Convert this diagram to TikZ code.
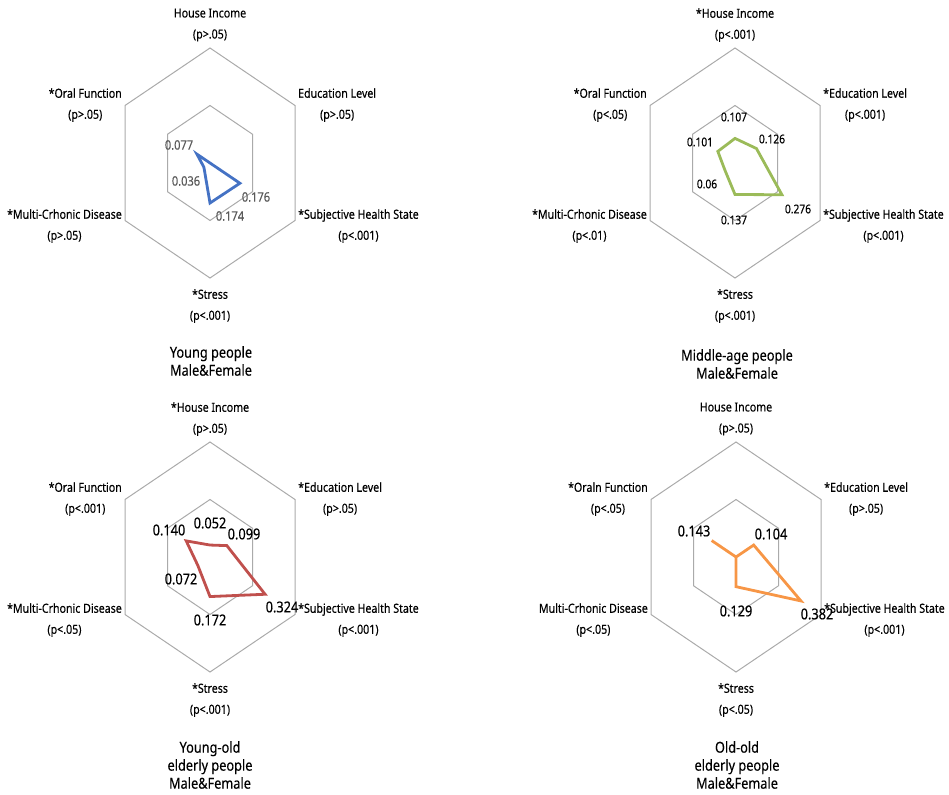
\documentclass[tikz,border=0pt]{standalone}
\usepackage{fontspec}
\setmainfont{Noto Sans}[FakeStretch=0.85, FakeBold=0.25]
\definecolor{hexgray}{RGB}{170,170,170}
\definecolor{youngblue}{RGB}{68,114,196}
\definecolor{middlegreen}{RGB}{155,187,89}
\definecolor{yoldred}{RGB}{192,80,77}
\definecolor{ooldorange}{RGB}{247,150,70}
\usetikzlibrary{calc}

\begin{document}
\begin{tikzpicture}[x=1pt,y=-1pt,
  hexline/.style={draw=hexgray, line width=1pt},
  dataline/.style={line width=2.8pt, line join=miter},
  axislabel/.style={align=center, inner sep=0pt, yshift=-2pt, font=\fontsize{12.5}{21}\selectfont},
  charttitle/.style={align=center, inner sep=0pt, font=\fontsize{15}{18}\selectfont},
  valuelabel/.style={inner sep=0pt}]
  \useasboundingbox (0,0) rectangle (949,794);

  % young people
  \begin{scope}[shift={(210,163)}, name prefix=yp-]
    \foreach \s in {1,0.5}
      \draw[hexline, scale=\s] (0,-115) -- (85,-57.5) -- (85,57.5) -- (0,115) -- (-85,57.5) -- (-85,-57.5) -- cycle;
    \draw[dataline, youngblue] (0,0) -- (0,0) -- (170*0.176,115*0.176) -- (0,230*0.174)
      -- (-170*0.036,115*0.036) -- (-170*0.077,-115*0.077) -- cycle;
    \node[axislabel] (hi) at (0,-140) {House Income\\(p>.05)};
    \node[axislabel, anchor=west] (el) at (88,-60) {Education Level\\(p>.05)};
    \node[axislabel, anchor=west] (shs) at (88,61) {*Subjective Health State\\(p<.001)};
    \node[axislabel] (st) at (0,141) {*Stress\\(p<.001)};
    \node[axislabel, anchor=east] (mcd) at (-88,61) {*Multi-Crhonic Disease\\(p>.05)};
    \node[axislabel, anchor=east] (of) at (-88,-60) {*Oral Function\\(p>.05)};
    \begin{scope}[every node/.style={valuelabel, text=black!65, font=\fontsize{13}{13}\selectfont}]
      \node (vof) at (-31,-18) {0.077};
      \node (vmcd) at (-24,18) {0.036};
      \node (vshs) at (46,34) {0.176};
      \node (vst) at (20,53) {0.174};
    \end{scope}
    \node[charttitle] (ttl) at (1,198) {Young people\\Male\&Female};
  \end{scope}

  % middle-age people
  \begin{scope}[shift={(735,163)}, name prefix=mp-]
    \foreach \s in {1,0.5}
      \draw[hexline, scale=\s] (0,-115) -- (85,-57.5) -- (85,57.5) -- (0,115) -- (-85,57.5) -- (-85,-57.5) -- cycle;
    \draw[dataline, middlegreen] (0,-230*0.107) -- (170*0.126,-115*0.126) -- (170*0.276,115*0.276) -- (0,230*0.137)
      -- (-170*0.06,115*0.06) -- (-170*0.101,-115*0.101) -- cycle;
    \node[axislabel] (hi) at (0,-140) {*House Income\\(p<.001)};
    \node[axislabel, anchor=west] (el) at (88,-60) {*Education Level\\(p<.001)};
    \node[axislabel, anchor=west] (shs) at (88,61) {*Subjective Health State\\(p<.001)};
    \node[axislabel] (st) at (0,141) {*Stress\\(p<.001)};
    \node[axislabel, anchor=east] (mcd) at (-88,61) {*Multi-Crhonic Disease\\(p<.01)};
    \node[axislabel, anchor=east] (of) at (-88,-60) {*Oral Function\\(p<.05)};
    \begin{scope}[every node/.style={valuelabel, font=\fontsize{12}{12}\selectfont}]
      \node (vhi) at (-1,-46) {0.107};
      \node (vel) at (37,-24) {0.126};
      \node (vof) at (-35,-21) {0.101};
      \node (vmcd) at (-28,21) {0.06};
      \node (vshs) at (63,46) {0.276};
      \node (vst) at (-1,57) {0.137};
    \end{scope}
    \node[charttitle] (ttl) at (2,201) {Middle-age people\\Male\&Female};
  \end{scope}

  % young-old elderly people
  \begin{scope}[shift={(210,557)}, name prefix=yo-]
    \foreach \s in {1,0.5}
      \draw[hexline, scale=\s] (0,-115) -- (85,-57.5) -- (85,57.5) -- (0,115) -- (-85,57.5) -- (-85,-57.5) -- cycle;
    \draw[dataline, yoldred] (0,-230*0.052) -- (170*0.099,-115*0.099) -- (170*0.324,115*0.324) -- (0,230*0.172)
      -- (-170*0.072,115*0.072) -- (-170*0.140,-115*0.140) -- cycle;
    \node[axislabel] (hi) at (0,-140) {*House Income\\(p>.05)};
    \node[axislabel, anchor=west] (el) at (88,-60) {*Education Level\\(p>.05)};
    \node[axislabel, anchor=west] (shs) at (88,61) {*Subjective Health State\\(p<.001)};
    \node[axislabel] (st) at (0,141) {*Stress\\(p<.001)};
    \node[axislabel, anchor=east] (mcd) at (-88,61) {*Multi-Crhonic Disease\\(p<.05)};
    \node[axislabel, anchor=east] (of) at (-88,-60) {*Oral Function\\(p<.001)};
    \begin{scope}[every node/.style={valuelabel, font=\fontsize{15}{15}\selectfont}]
      \node (vof) at (-41,-27) {0.140};
      \node (vhi) at (0,-34) {0.052};
      \node (vel) at (34,-23) {0.099};
      \node (vmcd) at (-29,22) {0.072};
      \node (vshs) at (72,50) {0.324};
      \node (vst) at (0,63) {0.172};
    \end{scope}
    \node[charttitle] (ttl) at (0,208) {Young-old\\elderly people\\Male\&Female};
  \end{scope}

  % old-old elderly people
  \begin{scope}[shift={(736,557)}, name prefix=oo-]
    \foreach \s in {1,0.5}
      \draw[hexline, scale=\s] (0,-115) -- (85,-57.5) -- (85,57.5) -- (0,115) -- (-85,57.5) -- (-85,-57.5) -- cycle;
    \draw[dataline, ooldorange] (0,0) -- (170*0.104,-115*0.104) -- (170*0.382,115*0.382) -- (0,230*0.129)
      -- (0,0) -- (-170*0.143,-115*0.143) -- cycle;
    \node[axislabel] (hi) at (0,-140) {House Income\\(p>.05)};
    \node[axislabel, anchor=west] (el) at (88,-60) {*Education Level\\(p>.05)};
    \node[axislabel, anchor=west] (shs) at (88,61) {*Subjective Health State\\(p<.001)};
    \node[axislabel] (st) at (0,141) {*Stress\\(p<.05)};
    \node[axislabel, anchor=east] (mcd) at (-88,61) {Multi-Crhonic Disease\\(p<.05)};
    \node[axislabel, anchor=east] (of) at (-88,-60) {*Oraln Function\\(p<.05)};
    \begin{scope}[every node/.style={valuelabel, font=\fontsize{15}{15}\selectfont}]
      \node (vof) at (-42,-26) {0.143};
      \node (vel) at (35,-23) {0.104};
      \node (vshs) at (81,57) {0.382};
      \node (vst) at (0,54) {0.129};
    \end{scope}
    \node[charttitle] (ttl) at (1,208) {Old-old\\elderly people\\Male\&Female};
  \end{scope}
\end{tikzpicture}
\end{document}
